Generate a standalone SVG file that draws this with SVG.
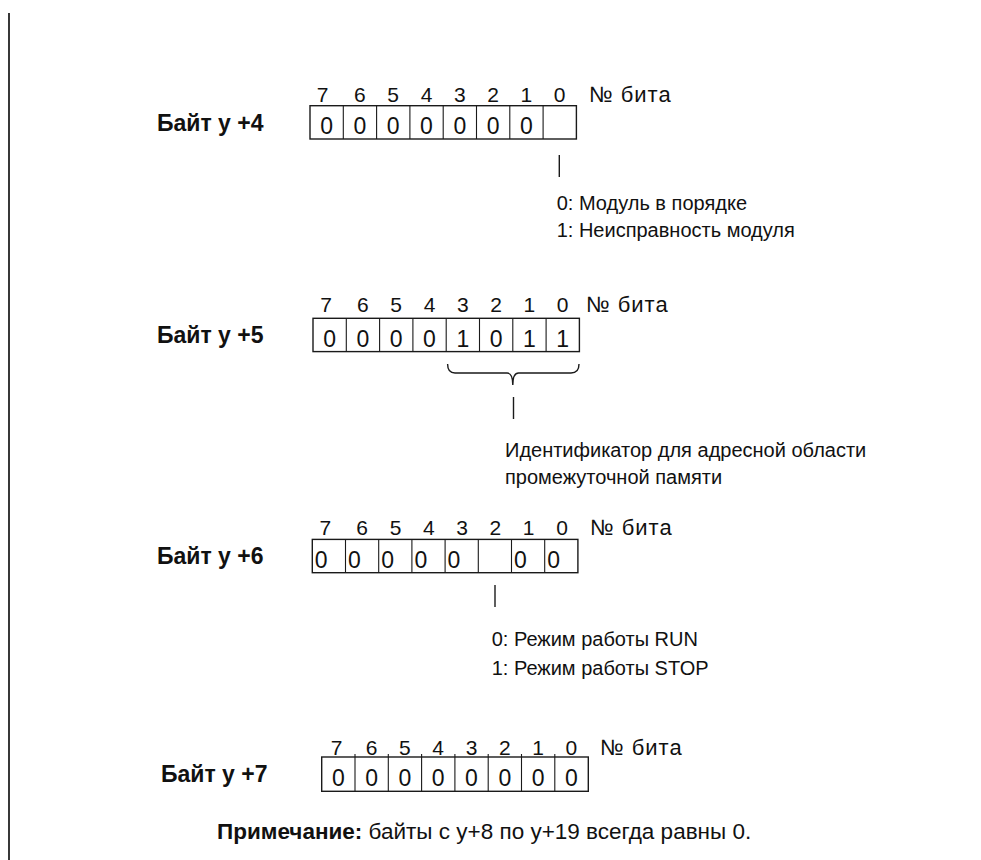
<svg xmlns="http://www.w3.org/2000/svg" width="981" height="860" viewBox="0 0 981 860">
<style>
text{font-family:"Liberation Sans",Arial,sans-serif;fill:#111}
.hd{font-size:21px;text-anchor:middle}
.nb{font-size:22px;letter-spacing:1px}
.cv{font-size:23px;text-anchor:middle}
.cl{font-size:23px}
.lb{font-size:23px;font-weight:bold}
.an{font-size:20px}
.nt{font-size:22.5px}
.box{fill:none;stroke:#1a1a1a;stroke-width:1.4}
.dv{stroke:#1a1a1a;stroke-width:1.1}
.ln{stroke:#1a1a1a;stroke-width:1.4;fill:none}
</style>
<rect width="981" height="860" fill="#fff"/>
<line x1="9" y1="13" x2="9" y2="860" stroke="#222" stroke-width="1.8"/>

<g id="byte4">
<text class="lb" x="157" y="131">Байт y +4</text>
<g transform="translate(310,105.7)">
<text class="hd" y="-4"><tspan x="12.6">7</tspan><tspan x="49.9">6</tspan><tspan x="83.2">5</tspan><tspan x="116.5">4</tspan><tspan x="149.8">3</tspan><tspan x="183.1">2</tspan><tspan x="216.4">1</tspan><tspan x="249.7">0</tspan></text>
<rect class="box" x="0" y="0" width="266.4" height="33.3"/>
<path class="dv" d="M33.3 0V33.3M66.6 0V33.3M99.9 0V33.3M133.2 0V33.3M166.5 0V33.3M199.8 0V33.3M233.1 0V33.3"/>
<text class="cv" y="28.5"><tspan x="16.6">0</tspan><tspan x="49.9">0</tspan><tspan x="83.2">0</tspan><tspan x="116.5">0</tspan><tspan x="149.8">0</tspan><tspan x="183.1">0</tspan><tspan x="216.4">0</tspan></text>
</g>
<text class="nb" x="589" y="102">№ бита</text>
<text class="an" x="556.7" y="210">0: Модуль в порядке</text>
<text class="an" x="556.7" y="237">1: Неисправность модуля</text>
</g>

<g id="byte5">
<text class="lb" x="157" y="343">Байт y +5</text>
<g transform="translate(313,318.3)">
<text class="hd" y="-6.5"><tspan x="13">7</tspan><tspan x="49.9">6</tspan><tspan x="83.2">5</tspan><tspan x="116.5">4</tspan><tspan x="149.8">3</tspan><tspan x="183.1">2</tspan><tspan x="216.4">1</tspan><tspan x="249.7">0</tspan></text>
<rect class="box" x="0" y="0" width="266.4" height="33.3"/>
<path class="dv" d="M33.3 0V33.3M66.6 0V33.3M99.9 0V33.3M133.2 0V33.3M166.5 0V33.3M199.8 0V33.3M233.1 0V33.3"/>
<text class="cv" y="28.5"><tspan x="16.6">0</tspan><tspan x="49.9">0</tspan><tspan x="83.2">0</tspan><tspan x="116.5">0</tspan><tspan x="149.8">1</tspan><tspan x="183.1">0</tspan><tspan x="216.4">1</tspan><tspan x="249.7">1</tspan></text>
</g>
<text class="nb" x="586" y="312">№ бита</text>
<text class="an" x="505" y="456.7">Идентификатор для адресной области</text>
<text class="an" x="505" y="483.5">промежуточной памяти</text>
</g>

<g id="byte6">
<text class="lb" x="157" y="564">Байт y +6</text>
<g transform="translate(312.3,539.4)">
<text class="hd" y="-4.5"><tspan x="13">7</tspan><tspan x="49.9">6</tspan><tspan x="83.2">5</tspan><tspan x="116.5">4</tspan><tspan x="149.8">3</tspan><tspan x="183.1">2</tspan><tspan x="216.4">1</tspan><tspan x="249.7">0</tspan></text>
<rect class="box" x="0" y="0" width="265.6" height="33.3"/>
<path class="dv" d="M33.2 0V33.3M66.4 0V33.3M99.6 0V33.3M132.8 0V33.3M166 0V33.3M199.2 0V33.3M232.4 0V33.3"/>
<text class="cl" y="28.5"><tspan x="2.5">0</tspan><tspan x="35.7">0</tspan><tspan x="68.9">0</tspan><tspan x="102.1">0</tspan><tspan x="135.3">0</tspan><tspan x="201.7">0</tspan><tspan x="234.9">0</tspan></text>
</g>
<text class="nb" x="590" y="535">№ бита</text>
<text class="an" x="491.7" y="646">0: Режим работы RUN</text>
<text class="an" x="491.7" y="675">1: Режим работы STOP</text>
</g>

<g id="byte7">
<text class="lb" x="161" y="782">Байт y +7</text>
<g transform="translate(321.7,757)">
<text class="hd" y="-2"><tspan x="15">7</tspan><tspan x="49.9">6</tspan><tspan x="83.2">5</tspan><tspan x="116.5">4</tspan><tspan x="149.8">3</tspan><tspan x="183.1">2</tspan><tspan x="216.4">1</tspan><tspan x="249.7">0</tspan></text>
<rect class="box" x="0" y="0" width="266.6" height="34.3"/>
<path class="dv" d="M33.3 -3V34.3M66.6 -3V34.3M99.9 -3V34.3M133.2 -3V34.3M166.5 -3V34.3M199.8 -3V34.3M233.1 -3V34.3"/>
<text class="cv" y="29"><tspan x="16.6">0</tspan><tspan x="49.9">0</tspan><tspan x="83.2">0</tspan><tspan x="116.5">0</tspan><tspan x="149.8">0</tspan><tspan x="183.1">0</tspan><tspan x="216.4">0</tspan><tspan x="249.7">0</tspan></text>
</g>
<text class="nb" x="600" y="755">№ бита</text>
</g>

<g id="note">
<text class="nt" x="217" y="839"><tspan font-weight="bold">Примечание:</tspan> байты с y+8 по y+19 всегда равны 0.</text>
</g>

<g id="connectors">
<line class="ln" x1="559.3" y1="155" x2="559.3" y2="177"/>
<path class="ln" stroke-width="1.1" d="M447.6 364Q447.6 373 455 373H507Q512.8 373 512.8 385Q512.8 373 518.6 373H571Q579 373 579 364"/>
<line class="ln" x1="513.5" y1="397" x2="513.5" y2="419"/>
<line class="ln" x1="495" y1="585" x2="495" y2="607"/>
</g>
</svg>
